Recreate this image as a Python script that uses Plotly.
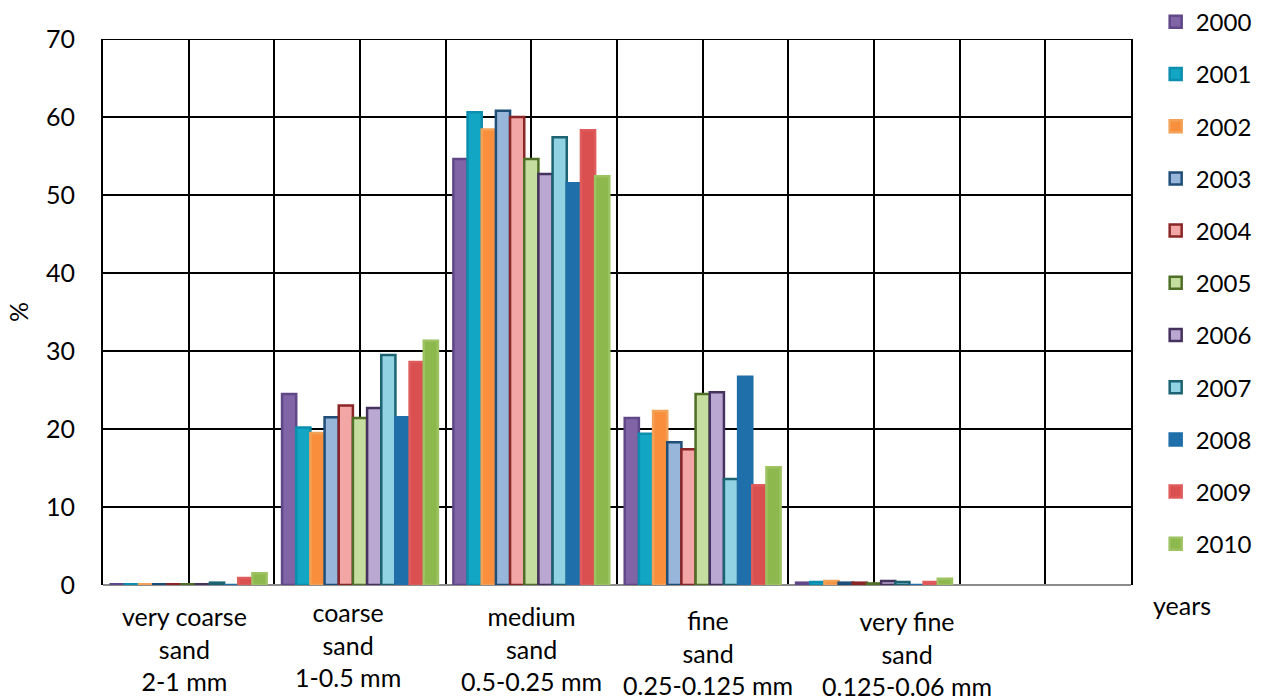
import plotly.graph_objects as go

# Grain-size classes and the share (%) of each class per year
categories = [
    "very coarse<br>sand<br>2-1 mm",
    "coarse<br>sand<br>1-0.5 mm",
    "medium<br>sand<br>0.5-0.25 mm",
    "fine<br>sand<br>0.25-0.125 mm",
    "very fine<br>sand<br>0.125-0.06 mm",
]
years = ["2000", "2001", "2002", "2003", "2004", "2005",
         "2006", "2007", "2008", "2009", "2010"]

y2000 = [0.1, 24.5, 54.6, 21.4, 0.3]
y2001 = [0.1, 20.2, 60.6, 19.4, 0.4]
y2002 = [0.1, 19.5, 58.4, 22.3, 0.5]
y2003 = [0.1, 21.5, 60.8, 18.3, 0.3]
y2004 = [0.1, 23.0, 60.0, 17.4, 0.3]
y2005 = [0.1, 21.4, 54.6, 24.5, 0.2]
y2006 = [0.1, 22.7, 52.7, 24.7, 0.5]
y2007 = [0.3, 29.5, 57.4, 13.6, 0.4]
y2008 = [0.0, 21.5, 51.5, 26.7, 0.0]
y2009 = [0.9, 28.6, 58.3, 12.8, 0.4]
y2010 = [1.5, 31.3, 52.4, 15.1, 0.8]
series = [y2000, y2001, y2002, y2003, y2004, y2005,
          y2006, y2007, y2008, y2009, y2010]

# Fill and outline colour for each year
fills = ["#8064A6", "#12A6C4", "#F98F3D", "#98B5DA", "#F2A6A6", "#C6DDA0",
         "#BAA8D2", "#92D3E3", "#1F6FAA", "#DA4F4F", "#8DB84E"]
edges = ["#604888", "#0C8FAE", "#F2A257", "#1F4E79", "#8B2626", "#4F6E26",
         "#46325F", "#1C6373", "#1F6FAA", "#E05C5C", "#9DC261"]

FONT = "Lato"

fig = go.Figure()
x_idx = list(range(len(categories)))
for name, vals, fc, lc in zip(years, series, fills, edges):
    fig.add_trace(go.Bar(
        x=x_idx, y=vals, name=name, legendgroup=name,
        marker=dict(color=fc, line=dict(color=lc, width=2.5)),
    ))

# grid lines at every category boundary and centre (one spare empty class)
grid_ticks = [i * 0.5 - 0.5 for i in range(13)]

fig.update_layout(
    width=1261, height=700,
    margin=dict(l=103, r=130, t=39, b=115, autoexpand=False),
    paper_bgcolor="white", plot_bgcolor="white",
    barmode="group", bargap=0.09, bargroupgap=0,
    font=dict(family=FONT, size=25, color="black"),
    xaxis=dict(
        range=[-0.5, 5.5], tickvals=grid_ticks, showticklabels=False,
        showgrid=True, gridcolor="black", gridwidth=2,
        zeroline=False, showline=False, ticks="",
    ),
    yaxis=dict(
        range=[0, 70], tickvals=list(range(0, 71, 10)),
        showgrid=True, gridcolor="black", gridwidth=2,
        zeroline=True, zerolinecolor="#8c8c8c", zerolinewidth=2,
        showline=True, mirror=True, linecolor="black", linewidth=2,
        ticks="", ticklabelstandoff=21,
        tickfont=dict(family=FONT, size=25),
        title=dict(text="%", font=dict(family=FONT, size=25), standoff=10),
    ),
    legend=dict(
        x=1.024, xanchor="left", y=1.072, yanchor="top",
        font=dict(family=FONT, size=24),
        tracegroupgap=18, itemclick=False, bgcolor="rgba(0,0,0,0)",
        maxheight=700,
    ),
    showlegend=True,
)

# top border of the plotting grid
fig.add_shape(type="line", xref="paper", yref="y", x0=0, x1=1, y0=70, y1=70,
              line=dict(color="black", width=2))

# category labels below the axis
label_xshift = [-4, -12, 0, 5, 33]
label_yshift = [-14, -10, -14, -18, -19]
for i, (lab, dx, dy) in enumerate(zip(categories, label_xshift, label_yshift)):
    fig.add_annotation(
        x=i, xref="x", y=0, yref="paper", yanchor="top",
        xshift=dx, yshift=dy, text=lab, showarrow=False, align="center",
        font=dict(family=FONT, size=25, color="black"),
    )

fig.add_annotation(
    x=(1213 - 103) / 1028, xref="paper", y=0, yref="paper", yshift=-37,
    text="years", showarrow=False,
    font=dict(family=FONT, size=25, color="black"),
)

fig.write_html("out.html")
